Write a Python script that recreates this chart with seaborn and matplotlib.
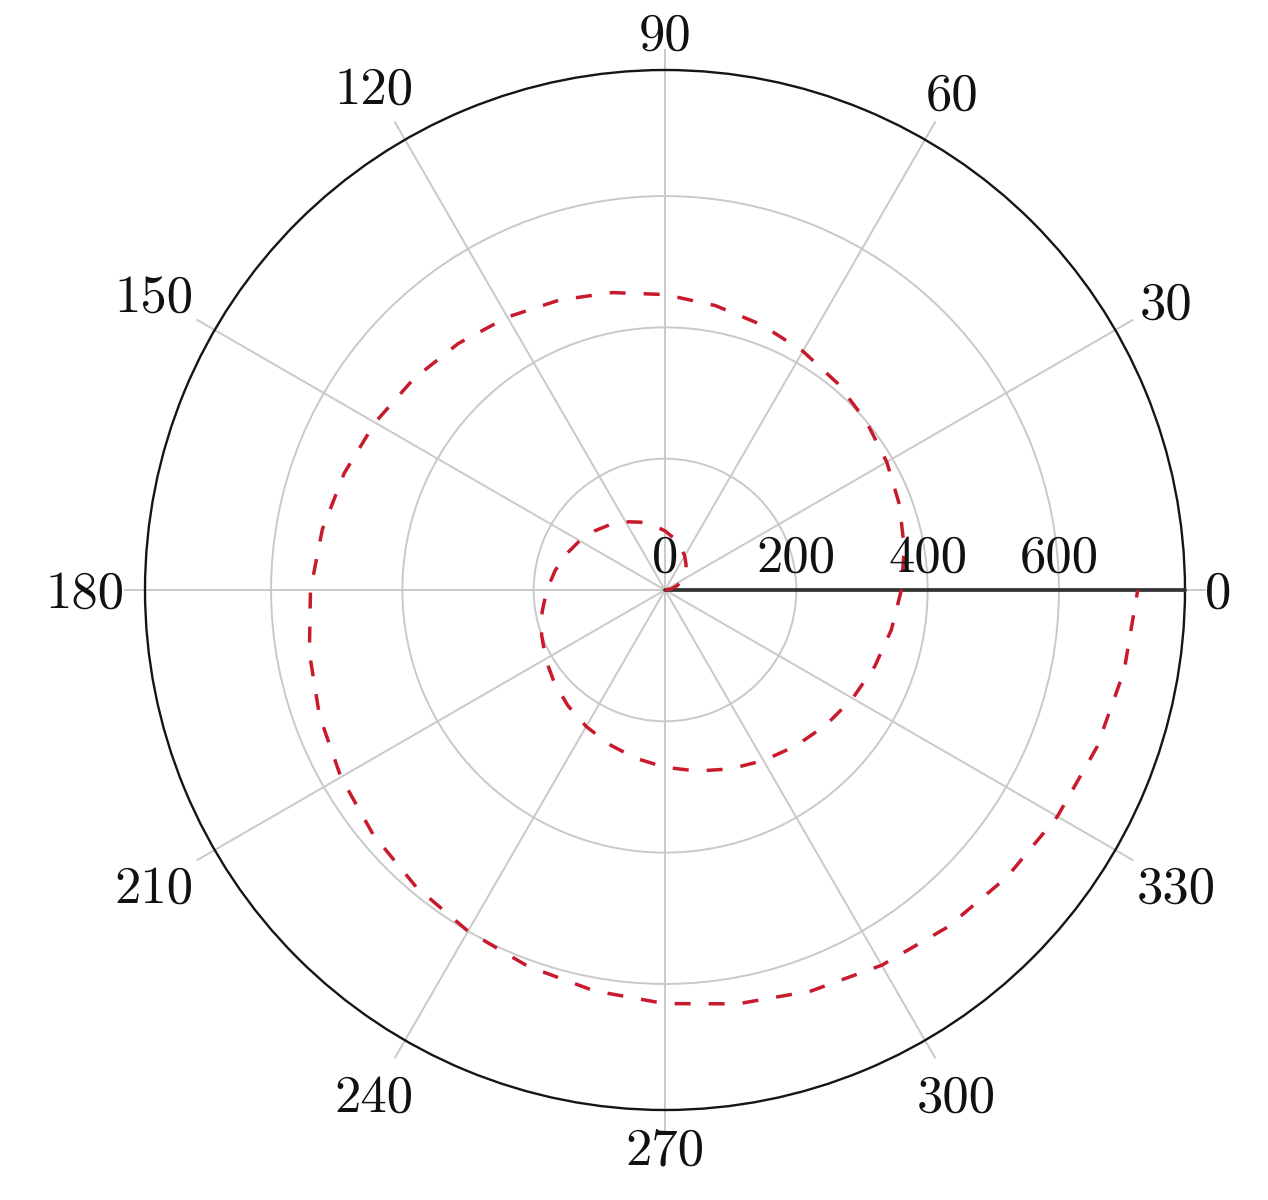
import numpy as np
import matplotlib
matplotlib.use("Agg")
import matplotlib.pyplot as plt
import seaborn as sns

# spiral: radius grows with the angle (degrees), two turns
angle_deg = [0, 10, 20, 30, 40, 50, 60, 70, 80, 90, 100, 110, 120, 130, 140,
             150, 160, 170, 180, 190, 200, 210, 220, 230, 240, 250, 260, 270,
             280, 290, 300, 310, 320, 330, 340, 350, 360, 370, 380, 390, 400,
             410, 420, 430, 440, 450, 460, 470, 480, 490, 500, 510, 520, 530,
             540, 550, 560, 570, 580, 590, 600, 610, 620, 630, 640, 650, 660,
             670, 680, 690, 700, 710, 720]
radius = [0, 10, 20, 30, 40, 50, 60, 70, 80, 90, 100, 110, 120, 130, 140,
          150, 160, 170, 180, 190, 200, 210, 220, 230, 240, 250, 260, 270,
          280, 290, 300, 310, 320, 330, 340, 350, 360, 370, 380, 390, 400,
          410, 420, 430, 440, 450, 460, 470, 480, 490, 500, 510, 520, 530,
          540, 550, 560, 570, 580, 590, 600, 610, 620, 630, 640, 650, 660,
          670, 680, 690, 700, 710, 720]

theta_ticks = [0, 30, 60, 90, 120, 150, 180, 210, 240, 270, 300, 330]
r_ticks = [0, 200, 400, 600]
r_outer = 792
r_lim = 824

sns.set_style("white")
plt.rcParams["font.family"] = ["cmr10", "DejaVu Serif"]
plt.rcParams["axes.formatter.use_mathtext"] = True
plt.rcParams["text.color"] = "#111111"

W, H, DPI = 1268, 1200, 100
fig = plt.figure(figsize=(W / DPI, H / DPI), dpi=DPI)
cx, cy, rad = 665, 590, 541
ax = fig.add_axes([(cx - rad) / W, (H - cy - rad) / H, 2 * rad / W, 2 * rad / H],
                  projection="polar")

sns.lineplot(x=np.deg2rad(angle_deg), y=radius, ax=ax, sort=False, estimator=None,
             color="#c81a2c", lw=2.5, linestyle=(0, (4.6, 5.2)), zorder=3)

ax.set_ylim(0, r_lim)
ax.set_xticks(np.deg2rad(theta_ticks))
ax.set_yticks(r_ticks[1:])
ax.xaxis.set_ticklabels([])
ax.yaxis.set_ticklabels([])
ax.grid(True, color="#c9c9c9", lw=1.4)
ax.spines["polar"].set_visible(False)
ax.set_xlabel("")
ax.set_ylabel("")

# outer circle and the radial axis line
ax.axhline(r_outer, color="#151515", lw=1.7, zorder=2)
ax.axvline(0, ymin=0, ymax=r_outer / r_lim, color="#333333", lw=2.7, zorder=2)

fs = 38
for r in r_ticks:
    ax.annotate(str(r), xy=(0, r), xytext=(0, 13), textcoords="offset points",
                ha="center", va="baseline", fontsize=fs, zorder=4)

# angle labels: placed just outside the spokes, box edge toward the circle
fig.canvas.draw()
renderer = fig.canvas.get_renderer()
px = DPI / 72.0
digit_h = 0.66 * fs * px
for t in theta_ticks:
    a = np.deg2rad(t)
    txt = ax.annotate(str(t), xy=(a, r_lim), xytext=(0, 0), textcoords="offset points",
                      ha="center", va="baseline", fontsize=fs, annotation_clip=False)
    w = txt.get_window_extent(renderer).width
    c, s = np.cos(a), np.sin(a)
    d = abs(w / 2 * c) + abs(digit_h / 2 * s) + 8 * abs(np.sin(2 * a)) - 1
    ox = d * c / px
    oy = d * s / px - digit_h / 2 / px
    txt.xyann = (ox, oy)

fig.savefig("out.png", dpi=DPI, facecolor="white")
